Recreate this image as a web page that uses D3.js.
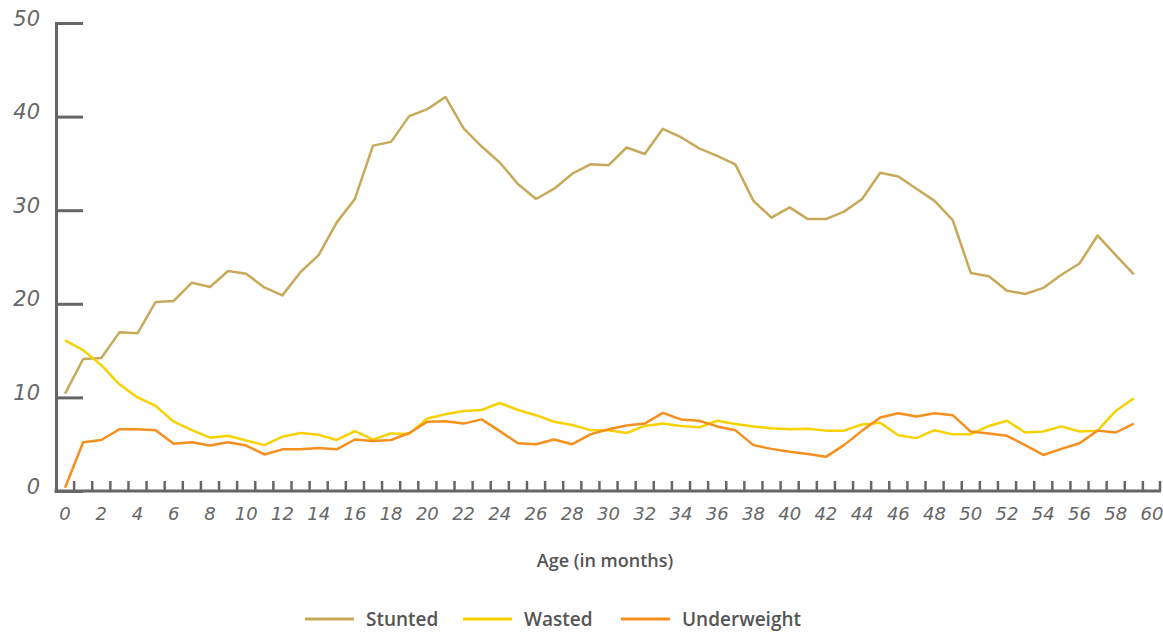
<!DOCTYPE html>
<html>
<head>
<meta charset="utf-8">
<script src="https://cdn.jsdelivr.net/npm/d3@7"></script>
<style>
  body { margin: 0; background: #fff; }
</style>
</head>
<body>
<div id="chart"></div>
<script>
// months 0..59
var months = d3.range(0, 60);
var tickLabels = d3.range(0, 61, 2);
var yTicks = [0, 10, 20, 30, 40, 50];

var stunted = [10.4, 14.1, 14.2, 16.95, 16.85, 20.2, 20.3, 22.25, 21.8, 23.5,
  23.2, 21.75, 20.9, 23.4, 25.2, 28.7, 31.2, 36.9, 37.3, 40.05,
  40.8, 42.1, 38.75, 36.8, 35.1, 32.8, 31.2, 32.3, 33.9, 34.9,
  34.8, 36.7, 36.0, 38.7, 37.8, 36.6, 35.8, 34.9, 31.0, 29.2,
  30.3, 29.05, 29.05, 29.85, 31.2, 34.0, 33.6, 32.3, 31.0, 28.95,
  23.3, 22.95, 21.4, 21.05, 21.7, 23.1, 24.3, 27.3, 25.2, 23.15];
var wasted = [16.1, 15.05, 13.45, 11.4, 10.0, 9.1, 7.4, 6.5, 5.7, 5.9,
  5.4, 4.9, 5.8, 6.2, 6.0, 5.45, 6.4, 5.5, 6.15, 6.1,
  7.75, 8.2, 8.55, 8.65, 9.4, 8.65, 8.1, 7.4, 7.05, 6.5,
  6.5, 6.2, 6.95, 7.2, 6.95, 6.8, 7.5, 7.15, 6.9, 6.7,
  6.6, 6.65, 6.45, 6.45, 7.1, 7.3, 5.95, 5.65, 6.5, 6.05,
  6.05, 6.95, 7.5, 6.25, 6.35, 6.9, 6.35, 6.45, 8.55, 9.9];
var underweight = [0.35, 5.2, 5.45, 6.6, 6.6, 6.5, 5.05, 5.2, 4.85, 5.2,
  4.85, 3.9, 4.45, 4.45, 4.6, 4.45, 5.5, 5.35, 5.45, 6.2,
  7.4, 7.45, 7.2, 7.65, 6.4, 5.1, 5.0, 5.5, 5.0, 6.05,
  6.6, 7.0, 7.2, 8.35, 7.65, 7.5, 6.9, 6.5, 4.9, 4.5,
  4.2, 3.95, 3.65, 4.9, 6.45, 7.85, 8.3, 7.95, 8.3, 8.1,
  6.35, 6.15, 5.9, 4.9, 3.85, 4.5, 5.1, 6.45, 6.25, 7.2];

var seriesNames = ["Stunted", "Wasted", "Underweight"];
var seriesColors = ["#c8a95a", "#f7d200", "#f5901e"];
var seriesValues = [stunted, wasted, underweight];

var width = 1163, height = 634;
var plotLeft = 56, plotRight = 1161, plotTop = 23, plotBottom = 491;
var tickFont = "'DejaVu Sans', sans-serif";

var svg = d3.select("#chart").append("svg")
  .attr("width", width)
  .attr("height", height);

var x = d3.scaleBand()
  .domain(d3.range(0, 61))
  .range([plotLeft, plotRight])
  .padding(0);

var y = d3.scaleLinear()
  .domain([0, 50])
  .range([plotBottom, plotTop]);

function cx(m) { return x(m) + x.bandwidth() / 2; }

// y axis
var yAxis = svg.append("g")
  .attr("transform", "translate(" + plotLeft + ",0)")
  .call(d3.axisRight(y).tickValues(yTicks).tickSize(27).tickFormat(d3.format("d")));
yAxis.select(".domain").attr("stroke", "#666").attr("stroke-width", 3);
yAxis.selectAll(".tick line").attr("stroke", "#666").attr("stroke-width", 3);
yAxis.selectAll(".tick text")
  .attr("x", -16)
  .attr("dy", "0.1em")
  .attr("text-anchor", "end")
  .style("font-family", tickFont)
  .style("font-style", "italic")
  .style("font-size", "21px")
  .style("fill", "#666");

// x axis: ticks between months, labels every 2 months
var xg = svg.append("g");
xg.append("line")
  .attr("x1", plotLeft - 1.5).attr("x2", plotRight)
  .attr("y1", plotBottom).attr("y2", plotBottom)
  .attr("stroke", "#666").attr("stroke-width", 3);
xg.selectAll("line.minor")
  .data(d3.range(1, 61))
  .enter().append("line")
  .attr("class", "minor")
  .attr("x1", function (d) { return x(d); })
  .attr("x2", function (d) { return x(d); })
  .attr("y1", plotBottom)
  .attr("y2", plotBottom - 10)
  .attr("stroke", "#666").attr("stroke-width", 2.5);
xg.append("line")
  .attr("x1", plotRight - 1).attr("x2", plotRight - 1)
  .attr("y1", plotBottom).attr("y2", plotBottom - 10)
  .attr("stroke", "#666").attr("stroke-width", 2.5);
xg.selectAll("text")
  .data(tickLabels)
  .enter().append("text")
  .attr("x", function (d) { return cx(d); })
  .attr("y", plotBottom + 29)
  .attr("text-anchor", "middle")
  .style("font-family", tickFont)
  .style("font-style", "italic")
  .style("font-size", "18px")
  .style("fill", "#666")
  .text(function (d) { return d; });

// axis title
svg.append("text")
  .attr("x", 605)
  .attr("y", 567)
  .attr("text-anchor", "middle")
  .style("font-family", "'Open Sans', sans-serif")
  .style("font-weight", "600")
  .style("font-size", "18px")
  .style("fill", "#555")
  .text("Age (in months)");

// lines
var line = d3.line()
  .x(function (d, i) { return cx(months[i]); })
  .y(function (d) { return y(d); });

svg.selectAll("path.series")
  .data(seriesValues)
  .enter().append("path")
  .attr("class", "series")
  .attr("d", line)
  .attr("fill", "none")
  .attr("stroke", function (d, i) { return seriesColors[i]; })
  .attr("stroke-width", 2.5)
  .attr("stroke-linejoin", "round");

// legend
var legendX = [305, 463, 621];
var legend = svg.selectAll(".legend")
  .data(seriesNames)
  .enter().append("g")
  .attr("class", "legend")
  .attr("transform", function (d, i) { return "translate(" + legendX[i] + ",619)"; });
legend.append("line")
  .attr("x1", 0).attr("x2", 49)
  .attr("y1", 0).attr("y2", 0)
  .attr("stroke", function (d, i) { return seriesColors[i]; })
  .attr("stroke-width", 3);
legend.append("text")
  .attr("x", 61)
  .attr("y", 7)
  .style("font-family", "'Open Sans', sans-serif")
  .style("font-weight", "600")
  .style("font-size", "19px")
  .style("fill", "#555")
  .text(function (d) { return d; });
</script>
</body>
</html>
